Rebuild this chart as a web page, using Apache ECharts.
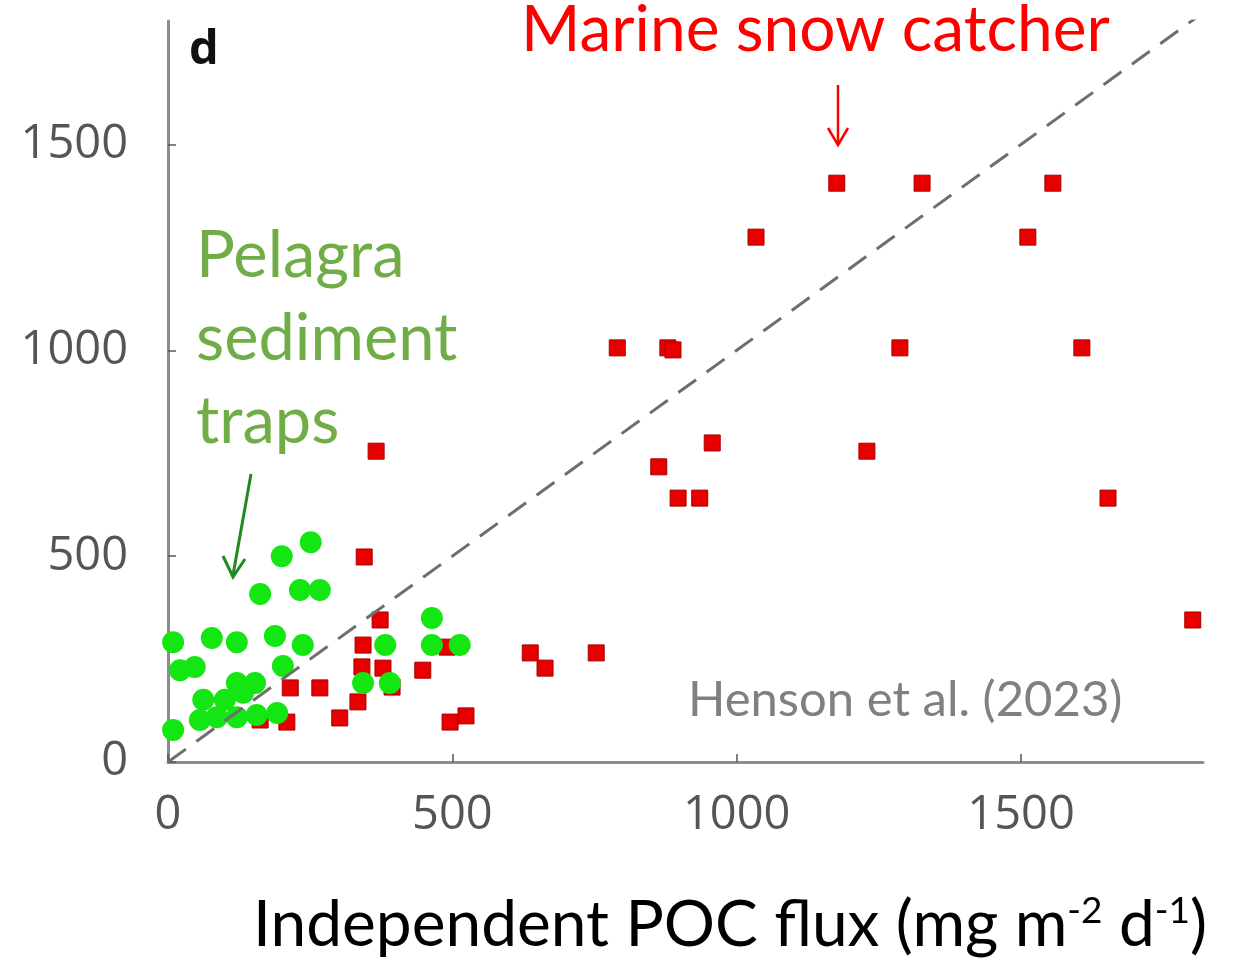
<!DOCTYPE html>
<html>
<head>
<meta charset="utf-8">
<script src="https://cdn.jsdelivr.net/npm/echarts@6/dist/echarts.min.js"></script>
<style>
  html, body { margin: 0; padding: 0; background: #ffffff; }
  #chart { width: 1235px; height: 965px; }
</style>
</head>
<body>
<div id="chart"></div>
<script>
// Marine snow catcher flux vs independent POC flux (mg m-2 d-1)
const snowX = [1176, 1326, 1556, 1034, 1512, 790, 879, 888, 1287, 1607, 366, 1229, 863, 957, 897, 935, 1653, 1802,
               637, 663, 753, 345, 373, 343, 341, 378, 448, 215, 267, 334, 302, 162, 209, 496, 524, 491, 394];
const snowY = [1406, 1406, 1406, 1275, 1275, 1006, 1006, 1001, 1006, 1006, 755, 755, 717, 775, 641, 641, 641, 345,
               265, 228, 265, 498, 345, 284, 231, 228, 223, 180, 180, 146, 107, 102, 97, 97, 112, 279, 182];

// Pelagra sediment trap flux vs independent POC flux
const pelagraX = [251, 200, 162, 232, 267, 9, 77, 121, 188, 237, 21, 47, 202, 121, 153, 62, 100, 132,
                  56, 86, 121, 156, 192, 9, 343, 390, 382, 464, 464, 513];
const pelagraY = [534, 500, 408, 418, 418, 291, 301, 291, 306, 284, 223, 231, 233, 192, 192, 151, 151, 168,
                  102, 109, 109, 114, 119, 78, 192, 192, 284, 350, 284, 284];

// 1:1 reference line
const oneToOne = [[0, 0], [1820, 1820]];

const xTicks = [0, 500, 1000, 1500];
const yTicks = [0, 500, 1000, 1500];

const zip = (xs, ys) => xs.map((x, i) => [x, ys[i]]);

const chart = echarts.init(document.getElementById('chart'));
const axisGray = '#8c8c8c';
const labelFont = { fontFamily: 'Open Sans', fontSize: 47, color: '#555555', formatter: v => String(v) };

chart.setOption({
  animation: false,
  backgroundColor: '#ffffff',
  grid: { left: 168, top: 21, width: 1035, height: 741, containLabel: false },
  xAxis: {
    type: 'value', min: 0, max: 1820,
    splitLine: { show: false },
    axisLine: { show: true, lineStyle: { color: axisGray, width: 3 } },
    axisTick: { show: true, inside: true, length: 8, customValues: xTicks, lineStyle: { color: '#555', width: 1.5 } },
    axisLabel: Object.assign({ customValues: xTicks, margin: 30 }, labelFont)
  },
  yAxis: {
    type: 'value', min: 0, max: 1800,
    splitLine: { show: false },
    axisLine: { show: true, lineStyle: { color: axisGray, width: 3 } },
    axisTick: { show: true, inside: true, length: 8, customValues: yTicks, lineStyle: { color: '#555', width: 1.5 } },
    axisLabel: Object.assign({ customValues: yTicks, margin: 40 }, labelFont)
  },
  series: [
    {
      name: 'Marine snow catcher', type: 'scatter', symbol: 'rect', symbolSize: 16,
      itemStyle: { color: '#e80000', borderColor: '#a80000', borderWidth: 1, opacity: 1 },
      data: zip(snowX, snowY), z: 2
    },
    {
      name: 'Pelagra sediment traps', type: 'scatter', symbol: 'circle', symbolSize: 22,
      itemStyle: { color: '#14e614', opacity: 1 },
      data: zip(pelagraX, pelagraY), z: 3
    },
    {
      name: '1:1', type: 'line', data: oneToOne, showSymbol: false, symbol: 'none',
      lineStyle: { color: '#6e6e6e', width: 3, type: [22, 13] }, z: 4, clip: true
    }
  ],
  graphic: [
    { type: 'text', left: 189, top: 27, style: { text: 'd', font: 'bold 47px "Open Sans"', fill: '#111' } },
    { type: 'text', left: 521, top: -2, style: { text: 'Marine snow catcher', font: '64px Lato', fill: '#ff0000' } },
    { type: 'polyline', shape: { points: [[838, 85], [838, 144]] }, style: { stroke: '#ff0000', lineWidth: 2.5 } },
    { type: 'polyline', shape: { points: [[828, 128], [838, 145], [848, 128]] }, style: { stroke: '#ff0000', lineWidth: 2.5, fill: null } },
    { type: 'text', left: 196, top: 215, style: { text: 'Pelagra\nsediment\ntraps', font: '65px Lato', lineHeight: 83, fill: '#70ad47' } },
    { type: 'polyline', shape: { points: [[251, 474], [233, 575]] }, style: { stroke: '#1f8a1f', lineWidth: 3 } },
    { type: 'polyline', shape: { points: [[223, 556], [233, 577], [245, 559]] }, style: { stroke: '#1f8a1f', lineWidth: 3, fill: null } },
    { type: 'text', left: 688, top: 676, style: { text: 'Henson et al. (2023)', font: '49px Lato', fill: '#808080' } },
    {
      type: 'text', left: 253, top: 893,
      style: {
        text: 'Independent POC flux (mg m{sup|-2} d{sup|-1})',
        font: '64px Lato', fill: '#000',
        rich: { sup: { font: '37px Lato', fill: '#000', verticalAlign: 'top', padding: [0, 0, 24, 0] } }
      }
    }
  ]
});
</script>
</body>
</html>
